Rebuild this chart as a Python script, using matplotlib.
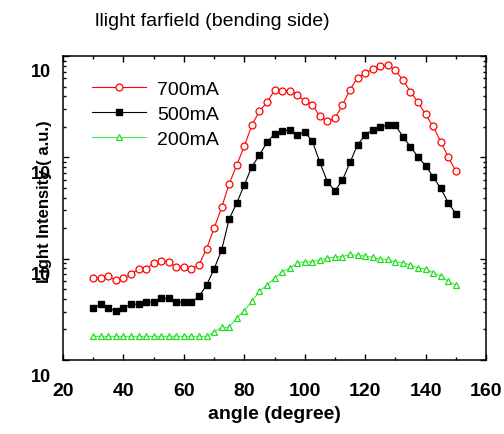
import matplotlib
matplotlib.use("Agg")
import matplotlib.pyplot as plt
import matplotlib.transforms as mtransforms
from matplotlib.ticker import LogLocator, MultipleLocator, NullFormatter
import numpy as np

plt.rcParams["font.family"] = ["Liberation Sans", "DejaVu Sans"]

# angle steps of 2.5 degrees, 30..150
angle = np.arange(30, 150.01, 2.5)

i_700 = [6.40, 6.40, 6.70, 6.16, 6.40, 7.06, 7.86, 7.86, 9.06, 9.48,
         9.27, 8.22, 8.22, 7.96, 8.66, 12.5, 19.9, 32.1, 54.6, 84.0,
         129, 208, 284, 349, 459, 449, 455, 415, 357, 329,
         254, 227, 243, 329, 465, 611, 679, 739, 791, 815,
         722, 580, 444, 349, 266, 202, 143, 101, 73.3]
i_500 = [3.26, 3.55, 3.26, 3.05, 3.26, 3.55, 3.55, 3.73, 3.73, 4.06,
         4.06, 3.73, 3.73, 3.73, 4.25, 5.46, 7.91, 12.2, 24.6, 35.4,
         53.3, 80.8, 105, 141, 170, 181, 187, 166, 177, 145,
         89.3, 57.5, 46.6, 59.7, 89.3, 133, 166, 187, 198, 210,
         208, 160, 127, 101, 82.7, 64.4, 49.4, 35.7, 27.8]
i_200 = [1.71] * 16 + [
         1.88, 2.10, 2.10, 2.61, 3.07, 3.78, 4.76, 5.50, 6.40, 7.43,
         8.04, 9.00, 9.33, 9.33, 9.77, 10.1, 10.4, 10.5, 11.0, 10.8,
         10.6, 10.3, 9.86, 9.86, 9.27, 9.12, 8.66, 8.09, 7.91, 7.27,
         6.75, 5.98, 5.50]
labels = ["700mA", "500mA", "200mA"]

W, H = 504, 435
fig = plt.figure(figsize=(W / 100, H / 100), dpi=100)
ax = fig.add_axes([63 / W, 1 - 361 / H, (486 - 63) / W, (361 - 57) / H])

h1, = ax.plot(angle, i_700, color="#ff0000", lw=0.8, marker="o", ms=5,
              mfc="white", mec="#ff0000", mew=0.9)
h2, = ax.plot(angle, i_500, color="black", lw=0.8, marker="s", ms=5,
              mfc="black", mec="black")
h3, = ax.plot(angle, i_200, color="#44ee44", lw=0.8, marker="^", ms=5,
              mfc="white", mec="#22dd22", mew=0.9)

ax.set_yscale("log")
ax.set_ylim(1, 1000)
ax.set_xlim(20, 160)
ax.xaxis.set_major_locator(MultipleLocator(20))
ax.xaxis.set_minor_locator(MultipleLocator(10))
ax.yaxis.set_major_locator(LogLocator(base=10, numticks=10))
ax.yaxis.set_minor_locator(LogLocator(base=10, subs=np.arange(2, 10), numticks=20))
ax.yaxis.set_minor_formatter(NullFormatter())
ax.set_yticks([1, 10, 100, 1000])
ax.set_yticklabels(["10"] * 4)

for s in ax.spines.values():
    s.set_linewidth(1.1)
ax.tick_params(which="both", direction="in", top=True, right=True, width=1.0)
ax.tick_params(which="major", length=4.5)
ax.tick_params(which="minor", length=2.5)
ax.tick_params(axis="x", which="major", labelsize=14, pad=16)
ax.tick_params(axis="y", which="major", labelsize=13, pad=9)
for lab in ax.get_xticklabels() + ax.get_yticklabels():
    lab.set_fontweight("bold")
# exponent of the y labels is missing in the original, the "10" sits low
off = mtransforms.ScaledTranslation(0, -0.14, fig.dpi_scale_trans)
for lab in ax.get_yticklabels():
    lab.set_transform(lab.get_transform() + off)

ax.set_xlabel("angle (degree)", fontsize=14, fontweight="bold", labelpad=4)
fig.text(45 / W, 1 - 202 / H, "Light Intensity ( a.u.)", rotation=90,
         ha="center", va="center", fontsize=12, fontweight="bold")
fig.text(95 / W, 1 - 21 / H, "llight farfield (bending side)",
         ha="left", va="center", fontsize=14)

ax.legend([h1, h2, h3], labels, loc="upper left", frameon=False,
          bbox_to_anchor=(92 / W, 1 - 81 / H), bbox_transform=fig.transFigure,
          fontsize=14, handlelength=2.8, handletextpad=0.55,
          labelspacing=0.38, borderpad=0, borderaxespad=0)

fig.savefig("out.png", dpi=100)
